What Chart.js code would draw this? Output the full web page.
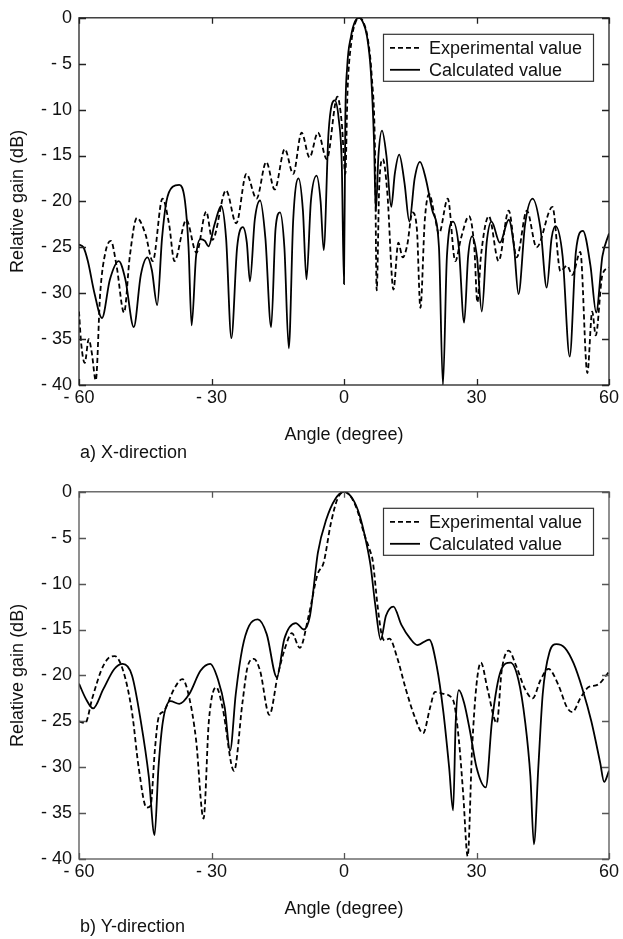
<!DOCTYPE html>
<html>
<head>
<meta charset="utf-8">
<title>Relative gain</title>
<script src="https://cdn.jsdelivr.net/npm/chart.js@4.4.1/dist/chart.umd.min.js"></script>
<style>
  html, body { margin: 0; padding: 0; background: #fff; overflow: hidden; }
  .panel { position: absolute; left: 0; width: 623px; height: 465px; }
  .caption { position: absolute; left: 80px; top: 442px; font: 18px "Liberation Sans", Arial, sans-serif; color: #111; }
</style>
</head>
<body>
<div class="panel" style="top:0px">
  <canvas id="chartX" width="623" height="465"></canvas>
  <div class="caption">a) X-direction</div>
</div>
<div class="panel" style="top:474px">
  <canvas id="chartY" width="623" height="465"></canvas>
  <div class="caption">b) Y-direction</div>
</div>
<script>
// a) X-direction
const calcAngleX = [-60, -59, -58, -56.5, -54.8, -53, -51, -49.5, -47.6, -46, -44.5, -43.5, -42.3, -41.2, -40.2, -38.8, -37.3, -36, -35.2, -34.5,
  -33.5, -32.5, -31.5, -30.7, -29.3, -27.8, -26.7, -25.5, -24.2, -22.9, -22, -21.3, -20.2, -19, -17.8, -16.5, -15.5, -14.5, -13.5, -12.5,
  -11.5, -10.3, -9.3, -8.5, -7.5, -6.2, -5.3, -4.6, -3.5, -2.1, -1.2, -0.5, 0, 0.3, 0.7, 1.6, 2.5, 3.4, 4.3, 5.2, 6.1, 6.8, 7.2, 7.8,
  8.6, 9.6, 10.7, 11.5, 12.5, 13.7, 14.8, 16, 17.2, 18.5, 20, 21.5, 22.4, 23.3, 24.7, 26, 27.2, 28.1, 29, 30.1, 31.2, 32.3, 33.4, 35.3,
  37.3, 38.5, 39.5, 41, 42.7, 44.5, 45.9, 47, 47.9, 49.5, 51.1, 52.5, 54.1, 55.8, 57.1, 58.5, 60];
const calcGainX = [-24.7, -25, -26.5, -30, -32.7, -28.5, -26.5, -28.5, -33.7, -28, -26.1, -27.5, -31.3, -24, -20, -18.4, -18.2, -20, -25, -33.5,
  -26, -24.1, -24.3, -24.9, -22.5, -20.5, -24, -34.9, -25, -22.8, -24.5, -28.7, -22, -19.9, -24, -33.7, -23, -21.2, -25, -36,
  -22, -17.5, -21, -28.5, -20, -17.2, -20, -25.3, -12.5, -9, -11, -16, -29, -11, -5.5, -2, -0.4, 0, -0.5, -2, -6, -13.5, -21.1, -15,
  -12.3, -15, -20.6, -17, -14.9, -18, -22.2, -17.5, -15.7, -17.5, -21, -25, -40, -26, -22.2, -25, -33.2, -26, -23.8, -26, -32, -24.5, -22.2, -24.5,
  -22, -25, -30.1, -22.5, -19.7, -23, -29.4, -24, -22.7, -26, -36.9, -25.5, -23.2, -27, -32.1, -26, -23.5];

const expAngleX = [-60, -59.5, -58.7, -57.8, -57.1, -56.2, -55.2, -54, -52.8, -51.5, -49.8, -48.5, -46.9, -45, -43.3, -41.1, -39.6, -38.4, -35.7, -33.4,
  -31.2, -29.8, -26.7, -24.4, -22.1, -19.8, -17.6, -15.7, -13.4, -11.5, -9.6, -7.8, -5.9, -3.9, -1.5, -0.5, 0.3, 0.8, 1.7, 2.6,
  3.6, 4.5, 5.4, 6.3, 7, 7.4, 8, 8.8, 9.8, 11.2, 12.3, 13.3, 14.3, 15.5, 16.5, 17.3, 18.3, 19.3, 20.5, 21.5,
  23.5, 25.2, 26.5, 28.3, 29.5, 30.2, 31, 32.8, 35, 37.3, 39.1, 41.4, 43.6, 47.2, 49, 50.5, 51.7, 53.5, 55.1, 56.2, 57, 58.5, 60];
const expGainX = [-32, -35.5, -37.6, -35, -36.5, -39.5, -30, -25.5, -24.3, -27, -32.1, -26, -21.8, -23.5, -26.5, -19.7, -22.5, -26.5, -22, -25.6,
  -21.1, -24.2, -18.8, -22.4, -17, -19.7, -15.7, -18.7, -14.3, -17, -12.5, -15.2, -12.5, -15.4, -8.6, -11.5, -17, -8, -2.5, -0.5,
  0, -0.6, -2.3, -6.5, -14, -29.7, -18, -15.4, -19, -29.6, -24.5, -26.1, -24.8, -21.2, -23, -31.6, -22, -19.2, -21.5, -23.5,
  -19.7, -26.5, -24, -21.6, -25, -31, -26, -21.6, -26.5, -21, -26.1, -21, -25, -20.6, -27.6, -27, -28, -25.5, -38.7, -32, -34.6, -28, -27.2];

// b) Y-direction
const calcAngleY = [-60, -58.5, -56.8, -54.5, -52, -50.1, -48, -46, -44.2, -42.9, -42, -41, -39.3, -37.3, -35, -32.5, -30.3, -28.5, -27, -25.8,
  -24.5, -23, -21.5, -19.5, -17.5, -15.2, -13.5, -10.9, -9.1, -7.7, -5.9, -4, -2, 0, 2, 3.5, 4.9, 6, 7.1, 8.3,
  9.5, 11.2, 13, 15, 16.6, 19.3, 21, 22.5, 23.8, 24.7, 25.3, 26, 27.2, 28.5, 30, 32.1, 33.5, 35.5, 37.7, 39.5,
  41, 42.2, 43, 44, 45, 46.5, 48.1, 50, 52, 54, 56, 58, 58.9, 60];
const calcGainY = [-20.9, -22.5, -23.6, -21.5, -19.3, -18.75, -20, -25, -31, -37.4, -30, -25, -22.8, -23.1, -22, -19.5, -18.75, -20.5, -23.5, -28.2,
  -22, -17, -14.6, -13.9, -15.5, -20.2, -16, -14.3, -15, -13.5, -6.6, -3, -0.8, 0, -0.8, -2.5, -5.2, -8, -12.4, -16.1,
  -13.5, -12.5, -14.5, -16, -16.7, -16.1, -19, -24, -30, -34.7, -25, -21.6, -23, -26, -30, -32.2, -25, -19.5, -18.6, -20.5,
  -25, -31, -38.4, -30, -22, -17.5, -16.6, -17, -18.7, -21.5, -25, -29.5, -31.6, -30.4];

const expAngleY = [-60, -58.6, -57, -55, -53.5, -51.9, -50, -48, -46.5, -44.7, -43.8, -42.8, -42, -40.8, -38.5, -36.6, -35, -33.5, -31.8, -30.6,
  -28.9, -27.5, -24.9, -23, -21.8, -20.4, -19, -16.9, -15, -13.2, -11.8, -10, -8, -6, -4.6, -3, -1.5, 0, 1.5, 3,
  4.5, 5.8, 6.5, 7.6, 8.5, 9.2, 10.3, 12, 14, 16, 17.9, 19.5, 20.6, 22.5, 24.7, 26, 27, 28, 29, 30,
  31, 32.5, 34.6, 35.7, 37.3, 39, 41, 42.7, 44.5, 46.3, 48.5, 50.5, 51.7, 53.5, 55.3, 57.5, 60];
const expGainY = [-25, -25.2, -22.5, -19.5, -18.2, -17.9, -19.5, -24, -30, -34.4, -34.2, -28, -24.6, -23.9, -21.5, -20.4, -22.5, -27, -35.6, -25,
  -21.3, -23.5, -30.4, -23, -19, -18.2, -19.5, -24.3, -20, -16.8, -15.4, -17, -13.5, -9, -7.7, -3.5, -0.8, 0, -0.5, -2,
  -4.5, -6.3, -7.5, -12.4, -15.5, -16.2, -16, -18, -21.5, -24.5, -26.3, -23.5, -21.8, -22, -22.7, -27, -33, -39.7, -28, -21,
  -18.6, -21.5, -25.2, -19.5, -17.3, -19, -21.5, -22.5, -20.5, -19.3, -21, -23.5, -24, -22.5, -21.3, -21, -19.6];

const angleTicks = [-60, -30, 0, 30, 60];
const seriesNames = ["Experimental value", "Calculated value"];

const FONT = "'Liberation Sans', Arial, sans-serif";

function points(xs, ys) {
  return xs.map((x, i) => ({ x: x, y: ys[i] }));
}

function label(v) {
  return v < 0 ? "- " + Math.abs(v) : String(v);
}

// box, inner ticks on all four sides, and the boxed legend
const framePlugin = {
  id: "frame",
  afterDatasetsDraw(chart, args, opts) {
    const { ctx, chartArea: a, scales } = chart;
    ctx.save();
    ctx.strokeStyle = opts.color;
    ctx.lineWidth = 1.3;
    ctx.strokeRect(a.left, a.top, a.width, a.height);
    ctx.beginPath();
    scales.x.ticks.forEach((t) => {
      const px = Math.round(scales.x.getPixelForValue(t.value)) + 0.5;
      ctx.moveTo(px, a.bottom); ctx.lineTo(px, a.bottom - 6);
      ctx.moveTo(px, a.top); ctx.lineTo(px, a.top + 6);
    });
    scales.y.ticks.forEach((t) => {
      const py = Math.round(scales.y.getPixelForValue(t.value)) + 0.5;
      ctx.moveTo(a.left, py); ctx.lineTo(a.left + 7, py);
      ctx.moveTo(a.right, py); ctx.lineTo(a.right - 7, py);
    });
    ctx.stroke();

    // legend
    const right = a.right - 16, top = a.top + 16, w = 210, h = 47;
    const left = right - w;
    ctx.fillStyle = "#fff";
    ctx.fillRect(left, top, w, h);
    ctx.lineWidth = 1.2;
    ctx.strokeStyle = "#333";
    ctx.strokeRect(left + 0.5, top + 0.5, w, h);
    ctx.font = "18px " + FONT;
    ctx.textBaseline = "middle";
    ctx.fillStyle = "#111";
    chart.data.datasets.forEach((ds, i) => {
      const cy = top + 14 + i * 22;
      ctx.beginPath();
      ctx.strokeStyle = "#000";
      ctx.lineWidth = 1.8;
      ctx.setLineDash(ds.borderDash || []);
      ctx.moveTo(left + 7, cy);
      ctx.lineTo(left + 37, cy);
      ctx.stroke();
      ctx.setLineDash([]);
      ctx.fillText(ds.label, left + 46, cy + 1);
    });
    ctx.restore();
  },
};

function makeChart(id, expX, expY, calcX, calcY, frameColor) {
  return new Chart(document.getElementById(id), {
    type: "line",
    data: {
      datasets: [
        {
          label: seriesNames[0],
          data: points(expX, expY),
          borderColor: "#000",
          borderWidth: 1.8,
          borderDash: [5, 3],
          pointRadius: 0,
          cubicInterpolationMode: "monotone",
        },
        {
          label: seriesNames[1],
          data: points(calcX, calcY),
          borderColor: "#000",
          borderWidth: 1.8,
          pointRadius: 0,
          cubicInterpolationMode: "monotone",
        },
      ],
    },
    options: {
      responsive: false,
      animation: false,
      devicePixelRatio: 1,
      layout: { padding: { top: 14, right: 14, left: 0, bottom: 0 } },
      plugins: {
        legend: { display: false },
        tooltip: { enabled: false },
        frame: { color: frameColor },
      },
      scales: {
        x: {
          type: "linear",
          min: -60,
          max: 60,
          afterBuildTicks: (s) => { s.ticks = angleTicks.map((v) => ({ value: v })); },
          afterFit: (s) => { s.height = 80; },
          grid: { display: false, drawTicks: false },
          border: { display: false },
          ticks: { padding: 2, color: "#111", font: { family: FONT, size: 18 }, callback: label, maxRotation: 0 },
          title: { display: true, text: "Angle (degree)", color: "#111", font: { family: FONT, size: 18 }, padding: { top: 0, bottom: 19 } },
        },
        y: {
          min: -40,
          max: 0,
          afterFit: (s) => { s.width = 79; },
          grid: { display: false, drawTicks: false },
          border: { display: false },
          ticks: { stepSize: 5, padding: 7, color: "#111", font: { family: FONT, size: 18 }, callback: label },
          title: { display: true, text: "Relative gain (dB)", color: "#111", font: { family: FONT, size: 18 }, padding: { top: 7, bottom: 0 } },
        },
      },
    },
    plugins: [framePlugin],
  });
}

makeChart("chartX", expAngleX, expGainX, calcAngleX, calcGainX, "#222");
makeChart("chartY", expAngleY, expGainY, calcAngleY, calcGainY, "#555");
</script>
</body>
</html>
